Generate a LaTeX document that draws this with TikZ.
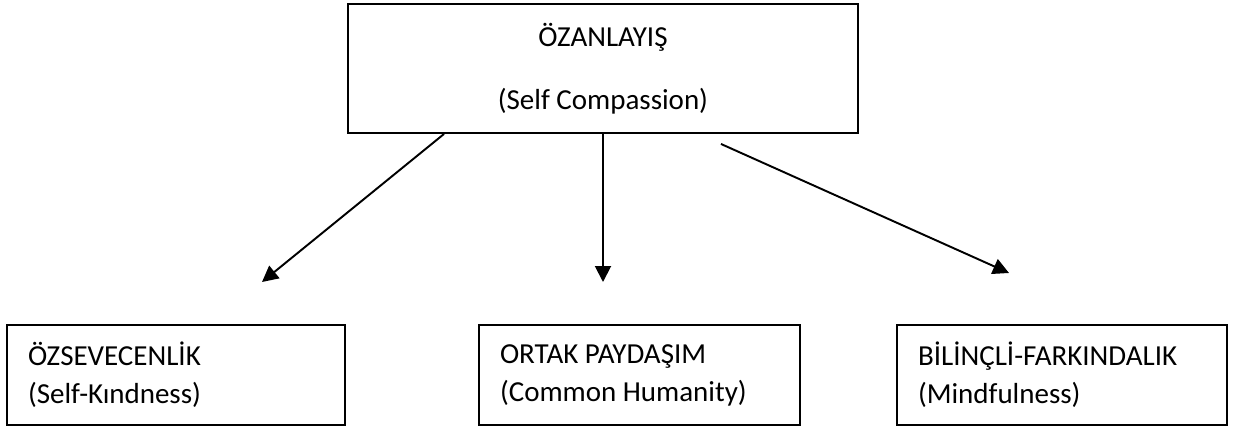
\documentclass[tikz,border=0pt]{standalone}
\usepackage{fontspec}
\setmainfont{Carlito}
\usetikzlibrary{arrows.meta}

\tikzset{
  topbox/.style={draw,line width=1.1pt,minimum width=10.2cm,minimum height=2.58cm,
    align=center,inner sep=0pt,font=\fontsize{16.5}{35.9}\selectfont},
  lowbox/.style={draw,line width=1.1pt,minimum height=2cm,align=flush left,
    inner xsep=0.42cm,inner ysep=0pt,font=\fontsize{16.5}{21.6}\selectfont},
  arr/.style={-{Triangle[length=0.32cm,width=0.32cm]},line width=1.1pt}
}

\begin{document}
\begin{tikzpicture}[x=0.02cm,y=-0.02cm]
\useasboundingbox (0,0) rectangle (1249,427);

\node[topbox] (self) at (603,68.5) {ÖZANLAYIŞ\\(Self Compassion)};

\node[lowbox,text width=5.92cm] (kind) at (176,375) {ÖZSEVECENLİK\\(Self-Kındness)};
\node[lowbox,text width=5.58cm] (hum) at (639.5,375) {ORTAK PAYDAŞIM\\(Common Humanity)};
\node[lowbox,text width=5.76cm] (mind) at (1062,375) {BİLİNÇLİ-FARKINDALIK\\(Mindfulness)};

\coordinate (kindtip) at (262,282);
\coordinate (humtip) at (603,282);
\coordinate (mindtip) at (1009,273);

\draw[arr] ([xshift=-3.18cm]self.south) -- (kindtip);
\draw[arr] (self.south) -- (humtip);
\draw[arr] ([xshift=2.36cm,yshift=-0.2cm]self.south) -- (mindtip);
\end{tikzpicture}
\end{document}
